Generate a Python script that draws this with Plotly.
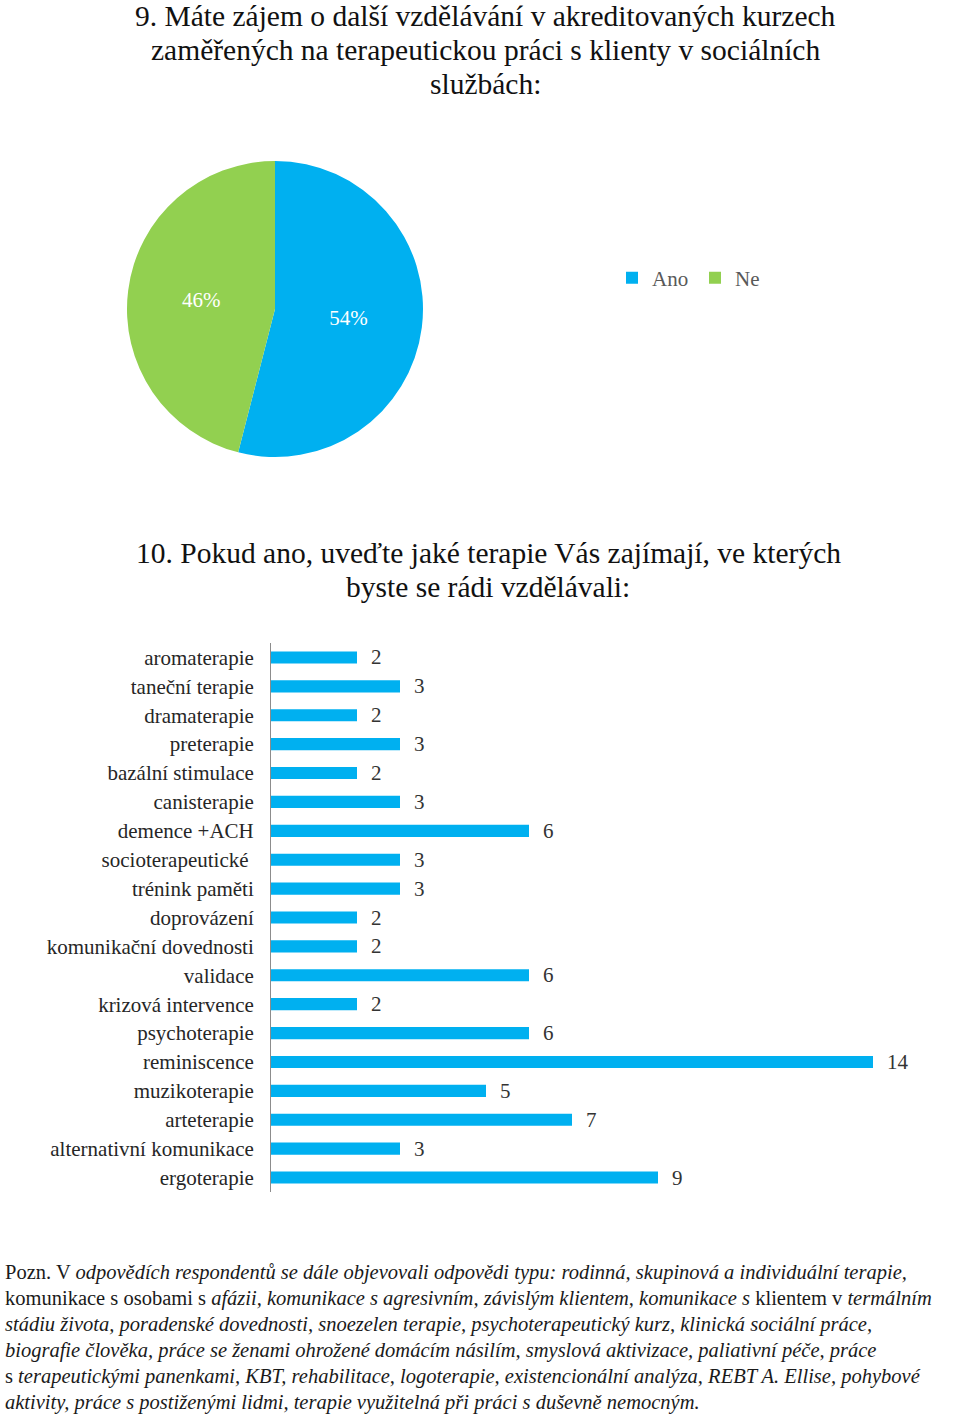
import plotly.graph_objects as go

W, H = 960, 1414

# ---- data ----
pie_labels = ["Ano", "Ne"]
pie_values = [54, 46]
pie_colors = ["#00B0F0", "#92D050"]

bar_categories = [
    "aromaterapie", "taneční terapie", "dramaterapie", "preterapie",
    "bazální stimulace", "canisterapie", "demence +ACH", "socioterapeutické\u00a0",
    "trénink paměti", "doprovázení", "komunikační dovednosti", "validace",
    "krizová intervence", "psychoterapie", "reminiscence", "muzikoterapie",
    "arteterapie", "alternativní komunikace", "ergoterapie",
]
bar_values = [2, 3, 2, 3, 2, 3, 6, 3, 3, 2, 2, 6, 2, 6, 14, 5, 7, 3, 9]

title1 = ["9. Máte zájem o další vzdělávání v akreditovaných kurzech",
          "zaměřených na terapeutickou práci s klienty v sociálních",
          "službách:"]
title2 = ["10. Pokud ano, uveďte jaké terapie Vás zajímají, ve kterých",
          "byste se rádi vzdělávali:"]
note_lines = [
    "Pozn. V <i>odpovědích respondentů se dále objevovali odpovědi typu: rodinná, skupinová a individuální terapie,</i>",
    "komunikace s osobami s <i>afázii, komunikace s agresivním, závislým klientem, komunikace s</i> klientem v <i>termálním</i>",
    "<i>stádiu života, poradenské dovednosti, snoezelen terapie, psychoterapeutický kurz, klinická sociální práce,</i>",
    "<i>biografie člověka, práce se ženami ohrožené domácím násilím, smyslová aktivizace, paliativní péče, práce</i>",
    "s <i>terapeutickými panenkami, KBT, rehabilitace, logoterapie, existencionální analýza, REBT A. Ellise, pohybové</i>",
    "<i>aktivity, práce s postiženými lidmi, terapie využitelná při práci s duševně nemocným.</i>",
]

SERIF = "Liberation Serif"


def py(p):
    return 1 - p / H


def px(p):
    return p / W


fig = go.Figure()

fig.add_trace(go.Pie(
    labels=pie_labels, values=pie_values, sort=False, direction="clockwise",
    rotation=0, marker=dict(colors=pie_colors, line=dict(width=0)),
    textinfo="percent", textposition="inside", insidetextorientation="horizontal",
    textfont=dict(family=SERIF, size=21, color="white"),
    domain=dict(x=[px(127), px(423)], y=[py(457), py(161)]),
    hoverinfo="label+percent",
))

fig.add_trace(go.Bar(
    y=bar_categories, x=bar_values, orientation="h",
    marker=dict(color="#00B0F0", line=dict(width=0)),
    width=0.42, showlegend=False, xaxis="x", yaxis="y",
))

annotations = []
for i, line in enumerate(title1):
    annotations.append(dict(text=line, x=px(485), y=py(16 + 34 * i), xref="paper", yref="paper",
                            xanchor="center", yanchor="middle", showarrow=False,
                            font=dict(family=SERIF, size=29.5, color="#111111")))
for i, line in enumerate(title2):
    annotations.append(dict(text=line, x=px(488), y=py(553 + 34 * i), xref="paper", yref="paper",
                            xanchor="center", yanchor="middle", showarrow=False,
                            font=dict(family=SERIF, size=29.5, color="#111111")))
for cat, v in zip(bar_categories, bar_values):
    annotations.append(dict(text=str(v), x=v, y=cat, xref="x", yref="y",
                            xanchor="left", yanchor="middle", xshift=12, showarrow=False,
                            font=dict(family=SERIF, size=21, color="#333333")))
for i, line in enumerate(note_lines):
    annotations.append(dict(text=line, x=px(3), y=py(1272 + 26 * i), xref="paper", yref="paper",
                            xanchor="left", yanchor="middle", showarrow=False,
                            font=dict(family=SERIF, size=20.5, color="#1a1a1a")))

fig.update_layout(
    width=W, height=H, margin=dict(l=0, r=0, t=0, b=0),
    paper_bgcolor="white", plot_bgcolor="white",
    showlegend=True,
    legend=dict(orientation="h", x=px(612), y=py(278), xanchor="left", yanchor="middle",
                font=dict(family=SERIF, size=21, color="#595959"),
                entrywidth=38, entrywidthmode="pixels", bgcolor="rgba(0,0,0,0)"),
    xaxis=dict(domain=[px(271), px(931)], range=[0, 660 / 43], visible=False, fixedrange=True),
    yaxis=dict(domain=[py(1192), py(643)], type="category", categoryorder="array",
               categoryarray=bar_categories, autorange="reversed",
               showline=True, linecolor="#8c8c8c", linewidth=1, showgrid=False,
               ticks="", ticklabelstandoff=12,
               tickfont=dict(family=SERIF, size=21, color="#262626")),
    annotations=annotations,
    bargap=0.58,
)

fig.write_html("out.html", config={"displayModeBar": False},
               post_script="document.body.style.margin='0';")
